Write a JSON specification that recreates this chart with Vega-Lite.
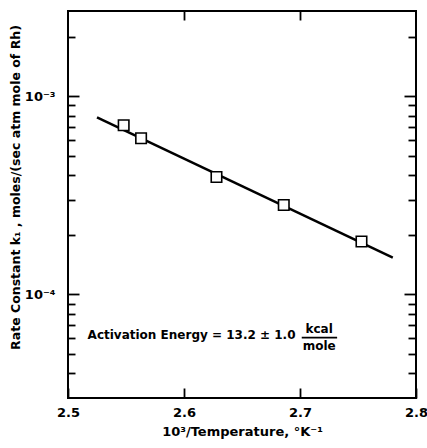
{
  "$schema": "https://vega.github.io/schema/vega-lite/v6.json",
  "width": 348,
  "height": 387,
  "autosize": "none",
  "padding": {"left": 68, "top": 11, "right": 11, "bottom": 50},
  "background": "white",
  "config": {
    "view": {"stroke": "black", "strokeWidth": 2},
    "font": "DejaVu Sans",
    "axis": {
      "domain": false,
      "grid": false,
      "tickColor": "black",
      "tickWidth": 1.8,
      "labelColor": "black",
      "titleColor": "black",
      "labelFont": "DejaVu Sans",
      "titleFont": "DejaVu Sans",
      "labelFontWeight": "bold",
      "titleFontWeight": "bold"
    }
  },
  "datasets": {
    "fit": [
      {"invT": 2.525, "k": 0.000784},
      {"invT": 2.78, "k": 0.0001535}
    ],
    "obs": [
      {"invT": 2.548, "k": 0.000715},
      {"invT": 2.563, "k": 0.000615},
      {"invT": 2.628, "k": 0.000392},
      {"invT": 2.686, "k": 0.000283},
      {"invT": 2.753, "k": 0.000185}
    ],
    "notes": [
      {"invT": 2.6065, "k": 0.0000622, "label": "Activation Energy = 13.2 ± 1.0"},
      {"invT": 2.7165, "k": 0.0000668, "label": "kcal"},
      {"invT": 2.7165, "k": 0.0000548, "label": "mole"}
    ],
    "bar": [
      {"invT": 2.7015, "invT2": 2.732, "k": 0.0000605}
    ]
  },
  "layer": [
    {
      "data": {"name": "fit"},
      "mark": {"type": "line", "color": "black", "strokeWidth": 2.5},
      "encoding": {
        "x": {
          "field": "invT", "type": "quantitative",
          "scale": {"domain": [2.5, 2.8], "nice": false, "zero": false},
          "axis": {
            "orient": "bottom",
            "values": [2.5, 2.6, 2.7, 2.8],
            "format": ".1f",
            "tickSize": -10,
            "labelPadding": 18,
            "labelFontSize": 13,
            "labelFlush": false,
            "title": "10³/Temperature, °K⁻¹",
            "titleFontSize": 13,
            "titlePadding": 6
          }
        },
        "y": {
          "field": "k", "type": "quantitative",
          "scale": {"type": "log", "domain": [0.00003, 0.0027], "nice": false},
          "axis": {
            "orient": "left",
            "values": [0.00004, 0.00005, 0.00006, 0.00007, 0.00008, 0.00009, 0.0002, 0.0003, 0.0004, 0.0005, 0.0006, 0.0007, 0.0008, 0.0009, 0.002],
            "tickSize": -7,
            "labels": false,
            "title": "Rate Constant  k₁ ,  moles/(sec atm mole of Rh)",
            "titleFontSize": 12.5,
            "titlePadding": 45,
            "titleY": 176
          }
        }
      }
    },
    {
      "data": {"name": "obs"},
      "mark": {"type": "square", "filled": false, "fill": "white", "fillOpacity": 1, "stroke": "black", "strokeWidth": 1.6, "size": 110, "opacity": 1},
      "encoding": {
        "x": {
          "field": "invT", "type": "quantitative",
          "scale": {"domain": [2.5, 2.8], "nice": false, "zero": false},
          "axis": {"orient": "top", "values": [2.6, 2.7], "tickSize": -9, "labels": false, "title": null}
        },
        "y": {
          "field": "k", "type": "quantitative",
          "scale": {"type": "log", "domain": [0.00003, 0.0027], "nice": false},
          "axis": {
            "orient": "left",
            "values": [0.0001, 0.001],
            "tickSize": -11,
            "labelExpr": "datum.value > 0.0005 ? '10⁻³' : '10⁻⁴'",
            "labelFontSize": 13,
            "labelPadding": 24,
            "title": null
          }
        }
      }
    },
    {
      "data": {"name": "notes"},
      "mark": {"type": "text", "fontWeight": "bold", "fontSize": 12, "baseline": "middle", "align": "center", "color": "black"},
      "encoding": {
        "x": {
          "field": "invT", "type": "quantitative",
          "scale": {"domain": [2.5, 2.8], "nice": false, "zero": false},
          "axis": null
        },
        "y": {
          "field": "k", "type": "quantitative",
          "scale": {"type": "log", "domain": [0.00003, 0.0027], "nice": false},
          "axis": {
            "orient": "right",
            "values": [0.00004, 0.00005, 0.00006, 0.00007, 0.00008, 0.00009, 0.0002, 0.0003, 0.0004, 0.0005, 0.0006, 0.0007, 0.0008, 0.0009, 0.002],
            "tickSize": -8,
            "labels": false,
            "title": null
          }
        },
        "text": {"field": "label"}
      }
    },
    {
      "data": {"name": "bar"},
      "mark": {"type": "rule", "color": "black", "strokeWidth": 1.6},
      "encoding": {
        "x": {
          "field": "invT", "type": "quantitative",
          "scale": {"domain": [2.5, 2.8], "nice": false, "zero": false},
          "axis": null
        },
        "x2": {"field": "invT2"},
        "y": {
          "field": "k", "type": "quantitative",
          "scale": {"type": "log", "domain": [0.00003, 0.0027], "nice": false},
          "axis": {
            "orient": "right",
            "values": [0.0001, 0.001],
            "tickSize": -12,
            "labels": false,
            "title": null
          }
        }
      }
    }
  ],
  "resolve": {"axis": {"x": "independent", "y": "independent"}}
}
